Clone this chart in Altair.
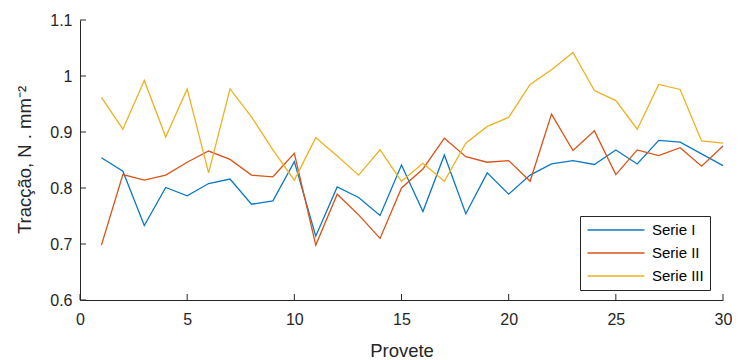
import altair as alt
import pandas as pd

provete = list(range(1, 31))
serie1 = [0.854, 0.830, 0.733, 0.801, 0.786, 0.808, 0.816, 0.771, 0.777, 0.847,
          0.714, 0.802, 0.783, 0.751, 0.841, 0.758, 0.859, 0.754, 0.827, 0.789,
          0.823, 0.843, 0.849, 0.842, 0.868, 0.843, 0.885, 0.882, 0.861, 0.840]
serie2 = [0.698, 0.824, 0.814, 0.823, 0.846, 0.866, 0.851, 0.823, 0.820, 0.862,
          0.698, 0.789, 0.752, 0.710, 0.800, 0.834, 0.889, 0.856, 0.846, 0.849,
          0.812, 0.932, 0.867, 0.902, 0.824, 0.868, 0.858, 0.872, 0.839, 0.875]
serie3 = [0.962, 0.905, 0.992, 0.891, 0.977, 0.827, 0.977, 0.927, 0.868, 0.814,
          0.890, 0.857, 0.823, 0.868, 0.812, 0.844, 0.812, 0.880, 0.910, 0.926,
          0.985, 1.011, 1.042, 0.974, 0.956, 0.905, 0.985, 0.976, 0.884, 0.880]
series_names = ["Serie I", "Serie II", "Serie III"]
series_colors = ["#0a78c4", "#D95319", "#EDB120"]
x_ticks = [0, 5, 10, 15, 20, 25, 30]
y_ticks = [0.6, 0.7, 0.8, 0.9, 1.0, 1.1]

rows = []
for name, vals in zip(series_names, [serie1, serie2, serie3]):
    for p, v in zip(provete, vals):
        rows.append({"Provete": p, "valor": v, "serie": name})
df = pd.DataFrame(rows)

FONT = "Liberation Sans"
AX = "#262626"

xscale = alt.Scale(domain=[0, 30], nice=False, zero=False)
yscale = alt.Scale(domain=[0.6, 1.1], nice=False, zero=False)

lines = alt.Chart(df).mark_line(strokeWidth=1.3).encode(
    x=alt.X("Provete:Q", scale=xscale,
            axis=alt.Axis(values=x_ticks, ticks=False, grid=False, title="Provete",
                          labelFontSize=16, labelPadding=11, labelColor=AX,
                          labelFont=FONT, titleFont=FONT, titleFontSize=18.5,
                          titleFontWeight="normal", titleColor=AX,
                          titleY=50, titleBaseline="middle",
                          domainColor=AX, labelFlush=False)),
    y=alt.Y("valor:Q", scale=yscale,
            axis=alt.Axis(values=y_ticks, ticks=False, grid=False, format=".1~f",
                          title="Tracção, N . mm⁻²",
                          labelFontSize=16, labelPadding=8, labelColor=AX,
                          labelFont=FONT, titleFont=FONT, titleFontSize=18.5,
                          titleFontWeight="normal", titleColor=AX,
                          titleX=-56, titleY=139.5, titleBaseline="middle",
                          domainColor=AX, labelFlush=False)),
    color=alt.Color("serie:N",
                    scale=alt.Scale(domain=series_names, range=series_colors),
                    legend=alt.Legend(title=None, orient="none", legendX=500, legendY=196,
                                      symbolType="M-4,0H4", symbolSize=203,
                                      symbolStrokeWidth=1.3, symbolOffset=22,
                                      labelOffset=28, labelFont=FONT, labelFontSize=15,
                                      labelColor="#000000", padding=6, rowPadding=7,
                                      strokeColor=AX, fillColor="#ffffff")),
)

yt = alt.Chart(pd.DataFrame({"t": y_ticks})).mark_rule(color=AX, strokeWidth=1).encode(
    y=alt.Y("t:Q", scale=yscale), x=alt.value(0), x2=alt.value(6))
xt = alt.Chart(pd.DataFrame({"t": x_ticks})).mark_rule(color=AX, strokeWidth=1).encode(
    x=alt.X("t:Q", scale=xscale), y=alt.value(280), y2=alt.value(274))

chart = alt.layer(lines, yt, xt).properties(
    width=643, height=280,
    autosize=alt.AutoSizeParams(type="none"),
    padding={"left": 72, "top": 12, "right": 9, "bottom": 60},
    background="#ffffff",
).configure_view(stroke=None)

chart.save("out.html", embed_options={"renderer": "svg", "actions": False})
